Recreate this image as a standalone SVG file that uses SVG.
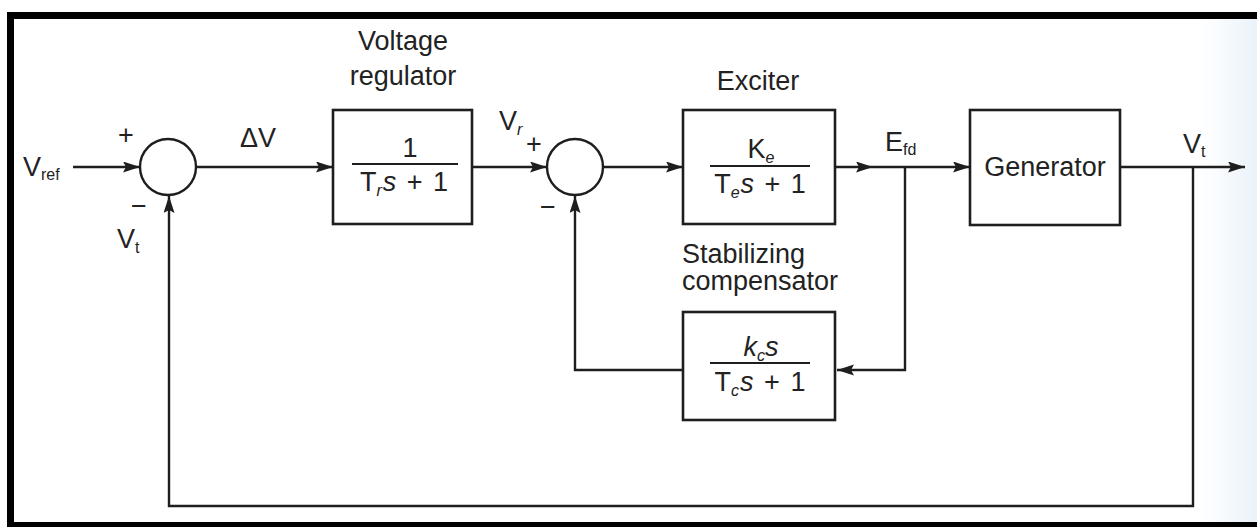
<svg xmlns="http://www.w3.org/2000/svg" width="1257" height="527" viewBox="0 0 1257 527">
  <style>
    .ln { fill: none; stroke: #1e1e1e; stroke-width: 2.4; }
    .bx { fill: #ffffff; stroke: #1e1e1e; stroke-width: 2.6; }
    .sj { fill: #ffffff; stroke: #1e1e1e; stroke-width: 2.4; }
    .fb { stroke: #1e1e1e; stroke-width: 2; }
    .t { font-family: "Liberation Sans", Arial, sans-serif; font-size: 27px; fill: #222222; }
    .sub { font-size: 16px; }
    .it { font-style: italic; }
    .frame { fill: #000000; }
  </style>
  <defs>
    <marker id="ah" markerUnits="userSpaceOnUse" markerWidth="18" markerHeight="12" refX="17" refY="5.5" orient="auto">
      <path d="M0,0 L17,5.5 L0,11 L3,5.5 z" fill="#1e1e1e"/>
    </marker>
    <linearGradient id="tint" x1="0" y1="0" x2="1" y2="0">
      <stop offset="0" stop-color="#eaf2fa" stop-opacity="0"/>
      <stop offset="1" stop-color="#e4eef8" stop-opacity="0.8"/>
    </linearGradient>
  </defs>

  <rect x="0" y="0" width="1257" height="527" fill="#ffffff"/>
  <rect x="1200" y="19" width="57" height="503" fill="url(#tint)"/>

  <g id="frame">
    <rect class="frame" x="7" y="12" width="1250" height="7"/>
    <rect class="frame" x="7" y="12" width="7" height="515"/>
    <rect class="frame" x="7" y="522" width="1250" height="5"/>
  </g>

  <g id="connectors">
    <path class="ln" d="M73,167 H140" marker-end="url(#ah)"/>
    <path class="ln" d="M196,167 H333" marker-end="url(#ah)"/>
    <path class="ln" d="M472,167 H547" marker-end="url(#ah)"/>
    <path class="ln" d="M603,167 H683" marker-end="url(#ah)"/>
    <path class="ln" d="M835,167 H873" marker-end="url(#ah)"/>
    <path class="ln" d="M873,167 H970" marker-end="url(#ah)"/>
    <path class="ln" d="M1120,167 H1245" marker-end="url(#ah)"/>
    <path class="ln" d="M1193,167 V506 H169 V196" marker-end="url(#ah)"/>
    <path class="ln" d="M905,167 V370 H837" marker-end="url(#ah)"/>
    <path class="ln" d="M683,370 H575 V196" marker-end="url(#ah)"/>
  </g>

  <g id="vref-label">
    <text class="t" x="23" y="176" font-size="28">V<tspan class="sub" dy="4">ref</tspan></text>
  </g>

  <g id="sum1">
    <circle class="sj" cx="168" cy="167" r="28"/>
    <text class="t" x="126" y="144" text-anchor="middle" font-size="24">+</text>
    <text class="t" x="139" y="215" text-anchor="middle" font-size="24">−</text>
    <text class="t" x="117" y="248" font-size="25">V<tspan class="sub" dy="5">t</tspan></text>
  </g>

  <g id="dv-label">
    <text class="t" x="240" y="147" font-size="25">ΔV</text>
  </g>

  <g id="voltage-regulator">
    <text class="t" x="403" y="50" text-anchor="middle">Voltage</text>
    <text class="t" x="403" y="85" text-anchor="middle">regulator</text>
    <rect class="bx" x="333" y="110" width="139" height="114"/>
    <text class="t" x="410" y="157" text-anchor="middle">1</text>
    <line class="fb" x1="352" y1="164" x2="458" y2="164"/>
    <text class="t" x="404" y="191" text-anchor="middle">T<tspan class="sub it" dy="5">r</tspan><tspan class="it" dy="-5" dx="1">s</tspan><tspan dx="3"> +</tspan><tspan dx="3"> 1</tspan></text>
  </g>

  <g id="sum2">
    <circle class="sj" cx="575" cy="167" r="28"/>
    <text class="t" x="499" y="130" font-size="25">V<tspan class="sub it" dy="5">r</tspan></text>
    <text class="t" x="534" y="153" text-anchor="middle" font-size="24">+</text>
    <text class="t" x="548" y="216" text-anchor="middle" font-size="24">−</text>
  </g>

  <g id="exciter">
    <text class="t" x="758" y="90" text-anchor="middle">Exciter</text>
    <rect class="bx" x="683" y="110" width="152" height="114"/>
    <text class="t" x="761" y="158" text-anchor="middle">K<tspan class="sub it" dy="5">e</tspan></text>
    <line class="fb" x1="710" y1="166" x2="810" y2="166"/>
    <text class="t" x="760" y="193" text-anchor="middle">T<tspan class="sub it" dy="5">e</tspan><tspan class="it" dy="-5" dx="1">s</tspan><tspan dx="3"> +</tspan><tspan dx="3"> 1</tspan></text>
  </g>

  <g id="efd-label">
    <text class="t" x="885" y="151" font-size="25">E<tspan class="sub" dy="4">fd</tspan></text>
  </g>

  <g id="generator">
    <rect class="bx" x="970" y="110" width="150" height="115"/>
    <text class="t" x="1045" y="176" text-anchor="middle">Generator</text>
  </g>

  <g id="vt-label">
    <text class="t" x="1183" y="153" font-size="25">V<tspan class="sub" dy="4">t</tspan></text>
  </g>

  <g id="stabilizing-compensator">
    <text class="t" x="682" y="263">Stabilizing</text>
    <text class="t" x="682" y="290">compensator</text>
    <rect class="bx" x="683" y="312" width="152" height="108"/>
    <text class="t" x="761" y="356" text-anchor="middle"><tspan class="it">k</tspan><tspan class="sub it" dy="5">c</tspan><tspan class="it" dy="-5">s</tspan></text>
    <line class="fb" x1="710" y1="363" x2="810" y2="363"/>
    <text class="t" x="760" y="391" text-anchor="middle">T<tspan class="sub it" dy="5">c</tspan><tspan class="it" dy="-5" dx="1">s</tspan><tspan dx="3"> +</tspan><tspan dx="3"> 1</tspan></text>
  </g>
</svg>
